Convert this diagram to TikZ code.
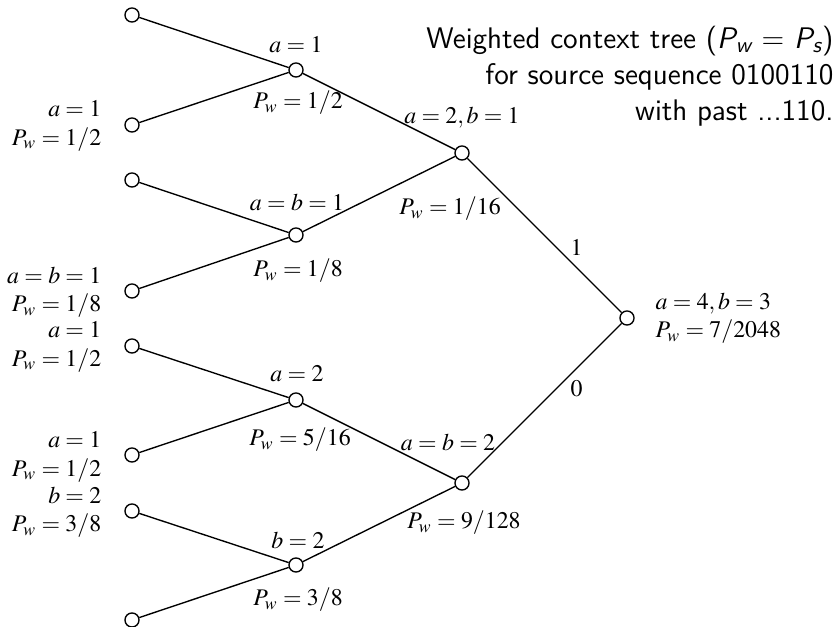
\documentclass[tikz,border=0pt]{standalone}
\usepackage{mathptmx}
\usepackage{tikz}
\usetikzlibrary{positioning}

\begin{document}
\begin{tikzpicture}[x=0.44pt,y=-0.44pt,
        ctx/.style={circle, draw, line width=0.6pt, minimum size=6.2pt, inner sep=0pt},
        lbl/.style={inner sep=1pt, font=\fontsize{10.5}{12.5}\selectfont},
        edge/.style={line width=0.6pt}]
        \useasboundingbox (0,0) rectangle (837,627);

        % Caption
        \node[anchor=east, align=right, inner sep=0pt,
              font=\sffamily\fontsize{13.1}{15.9}\selectfont] (caption) at (834,76)
            {Weighted context tree ({\slshape P}\textsubscript{\slshape w} = {\slshape P}\textsubscript{\slshape s})\\
             for source sequence 0100110\\
             with past ...110.};

        % Leaves (depth 3)
        \node[ctx] (l1) at (132,15) {};
        \node[ctx] (l2) at (132,125) {};
        \node[ctx] (l3) at (132,180) {};
        \node[ctx] (l4) at (132,291) {};
        \node[ctx] (l5) at (132,346) {};
        \node[ctx] (l6) at (132,455) {};
        \node[ctx] (l7) at (132,511) {};
        \node[ctx] (l8) at (132,620) {};

        % Depth 2
        \node[ctx] (n1) at (296,70) {};
        \node[ctx] (n2) at (296,235) {};
        \node[ctx] (n3) at (296,400) {};
        \node[ctx] (n4) at (296,565) {};

        % Depth 1
        \node[ctx] (m1) at (462,153) {};
        \node[ctx] (m2) at (462,483) {};

        % Root
        \node[ctx] (root) at (627,318) {};

        % Edges
        \draw[edge] (l1) -- (n1);
        \draw[edge] (l2) -- (n1);
        \draw[edge] (l3) -- (n2);
        \draw[edge] (l4) -- (n2);
        \draw[edge] (l5) -- (n3);
        \draw[edge] (l6) -- (n3);
        \draw[edge] (l7) -- (n4);
        \draw[edge] (l8) -- (n4);
        \draw[edge] (n1) -- (m1);
        \draw[edge] (n2) -- (m1);
        \draw[edge] (n3) -- (m2);
        \draw[edge] (n4) -- (m2);
        \draw[edge] (m1) -- node[lbl, pos=0.65, above right] (e1) {$1$} (root);
        \draw[edge] (m2) -- node[lbl, pos=0.65, below right] (e0) {$0$} (root);

        % Leaf counts
        \node[lbl, anchor=east, align=right] (l2t) at (104,126) {$a=1$\\$P_w=1/2$};
        \node[lbl, anchor=east, align=right] (l4t) at (104,292) {$a=b=1$\\$P_w=1/8$};
        \node[lbl, anchor=east, align=right] (l5t) at (104,347) {$a=1$\\$P_w=1/2$};
        \node[lbl, anchor=east, align=right] (l6t) at (104,457) {$a=1$\\$P_w=1/2$};
        \node[lbl, anchor=east, align=right] (l7t) at (104,512) {$b=2$\\$P_w=3/8$};

        % Depth 2 counts
        \node[lbl] (n1a) at (296,45) {$a=1$};
        \node[lbl] (n1p) at (298,103) {$P_w=1/2$};
        \node[lbl] (n2a) at (297,202) {$a=b=1$};
        \node[lbl] (n2p) at (298,271) {$P_w=1/8$};
        \node[lbl] (n3a) at (297,374) {$a=2$};
        \node[lbl] (n3p) at (300,440) {$P_w=5/16$};
        \node[lbl] (n4a) at (298,540) {$b=2$};
        \node[lbl] (n4p) at (298,600) {$P_w=3/8$};

        % Depth 1 counts
        \node[lbl] (m1a) at (462,118) {$a=2,b=1$};
        \node[lbl] (m1p) at (450,209) {$P_w=1/16$};
        \node[lbl] (m2a) at (448,442) {$a=b=2$};
        \node[lbl] (m2p) at (464,523) {$P_w=9/128$};

        % Root counts
        \node[lbl, anchor=west, align=left] (roott) at (653,318) {$a=4,b=3$\\$P_w=7/2048$};
    \end{tikzpicture}
\end{document}
